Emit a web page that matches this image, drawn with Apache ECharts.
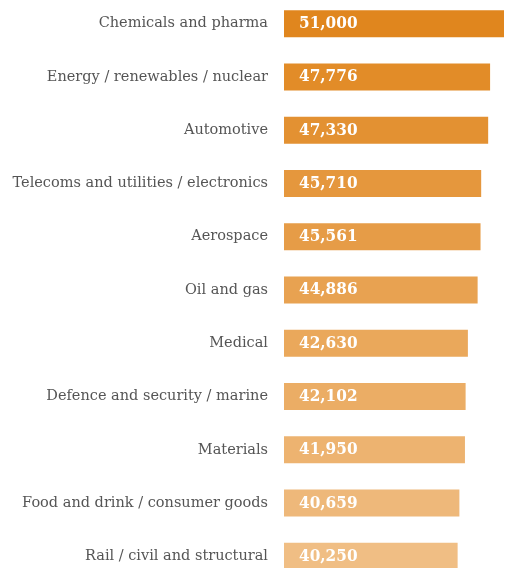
<!DOCTYPE html>
<html>
<head>
<meta charset="utf-8">
<script src="https://cdn.jsdelivr.net/npm/echarts@6/dist/echarts.min.js"></script>
<style>
  html, body { margin: 0; padding: 0; background: #fff; overflow: hidden; }
  #chart { width: 508px; height: 604px; margin-top: -4px; }
</style>
</head>
<body>
<div id="chart"></div>
<script>
  // sectors, top to bottom
  var sectors = [
    'Chemicals and pharma',
    'Energy / renewables / nuclear',
    'Automotive',
    'Telecoms and utilities / electronics',
    'Aerospace',
    'Oil and gas',
    'Medical',
    'Defence and security / marine',
    'Materials',
    'Food and drink / consumer goods',
    'Rail / civil and structural'
  ];
  var salaries = [51000, 47776, 47330, 45710, 45561, 44886, 42630, 42102, 41950, 40659, 40250];

  // shade from dark orange (top) to pale orange (bottom)
  function shade(i, n) {
    var a = [0xe0, 0x86, 0x1e], b = [0xf0, 0xbe, 0x84];
    var t = n > 1 ? i / (n - 1) : 0;
    var c = a.map(function (v, k) { return Math.round(v + (b[k] - v) * t); });
    return 'rgb(' + c.join(',') + ')';
  }

  var chart = echarts.init(document.getElementById('chart'));
  var len = salaries.length;
  var seriesData = salaries.map(function (v, i) {
    return { value: v, itemStyle: { color: shade(i, len) } };
  });

  // div is taller than the window so the last bar is cut off like the original
  chart.setOption({
    animation: false,
    grid: {
      left: 284,
      right: 4,
      top: 1,
      bottom: 17,
      containLabel: false
    },
    xAxis: {
      type: 'value',
      min: 0,
      max: 51000,
      show: false
    },
    yAxis: {
      type: 'category',
      inverse: true,
      data: sectors,
      axisLine: { show: false },
      axisTick: { show: false },
      axisLabel: {
        margin: 16,
        color: '#555',
        fontFamily: 'DejaVu Serif',
        fontSize: 14.5,
        padding: [0, 0, 11, 0]
      }
    },
    series: [{
      type: 'bar',
      data: seriesData,
      barWidth: 27,
      label: {
        show: true,
        position: 'insideLeft',
        offset: [10, 0],
        color: '#fff',
        fontFamily: 'DejaVu Serif Condensed, DejaVu Serif',
        fontWeight: 'bold',
        fontSize: 17,
        formatter: function (p) {
          return p.value.toLocaleString('en-US');
        }
      }
    }]
  });
</script>
</body>
</html>
